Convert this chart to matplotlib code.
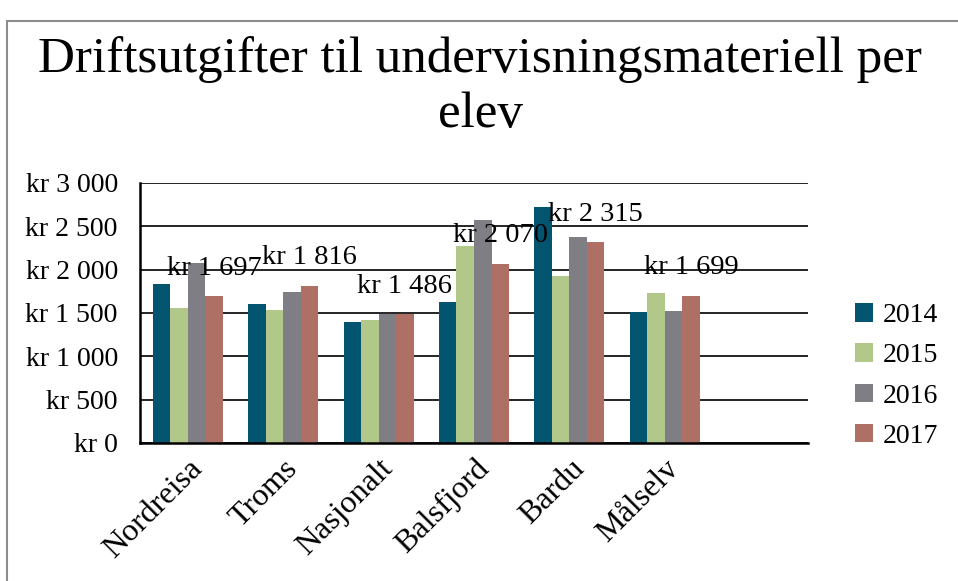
import matplotlib
matplotlib.use("Agg")
import matplotlib.pyplot as plt
from matplotlib.patches import Rectangle
import numpy as np

categories = ["Nordreisa", "Troms", "Nasjonalt", "Balsfjord", "Bardu", "Målselv"]
years = ["2014", "2015", "2016", "2017"]
v2014 = [1835, 1604, 1396, 1627, 2723, 1512]
v2015 = [1558, 1535, 1419, 2273, 1927, 1731]
v2016 = [2073, 1742, 1490, 2573, 2377, 1523]
v2017 = [1697, 1816, 1486, 2070, 2315, 1699]
y_ticks = [0, 500, 1000, 1500, 2000, 2500, 3000]
y_tick_labels = ["kr 0", "kr 500", "kr 1 000", "kr 1 500", "kr 2 000", "kr 2 500", "kr 3 000"]
title = "Driftsutgifter til undervisningsmateriell per\nelev"

colors = ["#02546F", "#B2C78A", "#7F7E84", "#AE7064"]
series = [v2014, v2015, v2016, v2017]

plt.rcParams['font.family'] = ['Liberation Serif', 'DejaVu Serif']

W, H = 958, 581
fig = plt.figure(figsize=(W / 100, H / 100), dpi=100)

# outer frame
fig.patches.append(Rectangle((7 / W, -0.05), 1.2, (H - 21) / H + 0.05, transform=fig.transFigure,
                             fill=False, edgecolor="#8C8C8C", linewidth=1.5, zorder=0))

ax = fig.add_axes([140 / W, (H - 443) / H, 668 / W, 260 / H])
x = np.arange(len(categories))
bw = 0.1835
for i, (vals, col, yr) in enumerate(zip(series, colors, years)):
    ax.bar(x + (i - 1.5) * bw, vals, width=bw, color=col, label=yr, zorder=3)

# data labels for 2017
for xi, v in zip(x, v2017):
    ax.annotate("kr {:,}".format(v).replace(",", " "), (xi + 1.5 * bw, v), xytext=(0, 20),
                textcoords="offset points", ha="center", va="center", fontsize=20.5, zorder=5)

ax.set_xlim(-0.5, 6.5)
ax.set_ylim(0, 3000)
ax.set_yticks(y_ticks)
ax.set_yticklabels(y_tick_labels, fontsize=20)
ax.set_xticks(x)
ax.set_xticklabels(categories, rotation=45, ha="right", va="top", rotation_mode="anchor", fontsize=23)
ax.tick_params(axis="y", length=0, pad=16)
ax.tick_params(axis="x", length=0, pad=8)
ax.yaxis.grid(True, color="black", linewidth=1.2, zorder=1)
ax.set_axisbelow(True)
for s in ["top", "right"]:
    ax.spines[s].set_visible(False)
for s in ["left", "bottom"]:
    ax.spines[s].set_linewidth(1.8)
    ax.spines[s].set_zorder(4)

leg = ax.legend(loc="center left", bbox_to_anchor=(855 / W, (H - 376) / H), bbox_transform=fig.transFigure,
                frameon=False, fontsize=20, handlelength=0.65, handleheight=0.65, handletextpad=0.35,
                labelspacing=0.55, borderaxespad=0, borderpad=0)

t = fig.text(480 / W, 1 - 87 / H, title, ha="center", va="center", fontsize=36, linespacing=1.25)
fig.canvas.draw()
bb = t.get_window_extent()
# fit title width to the reference's first line width (~884 px)
t.set_fontsize(36 * 884 / bb.width)

fig.savefig("out.png", dpi=100)
